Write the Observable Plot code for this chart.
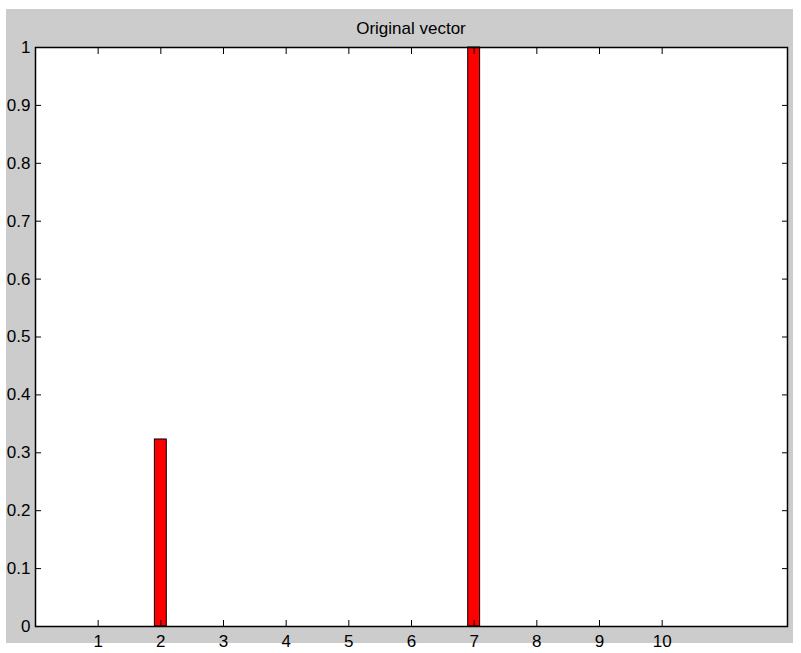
<!DOCTYPE html>
<html>
<head>
<meta charset="utf-8">
<script src="https://cdn.jsdelivr.net/npm/d3@7"></script>
<script src="https://cdn.jsdelivr.net/npm/@observablehq/plot@0.6"></script>
<style>
  html, body { margin: 0; padding: 0; background: #ffffff; }
  #wrap { position: relative; width: 801px; height: 653px; }
  #bg { position: absolute; left: 6px; top: 9px; width: 787px; height: 634px; background: #cccccc; }
  #title { position: absolute; left: 35px; width: 752px; top: 19px; text-align: center;
           font-family: "Liberation Sans", Arial, sans-serif; font-size: 17px; color: #000; }
  #chart { position: absolute; left: 0; top: 0; }
  #chart svg { background: transparent !important; }
</style>
</head>
<body>
<div id="wrap">
  <div id="bg"></div>
  <div id="title">Original vector</div>
  <div id="chart"></div>
</div>
<script>
const titleText = "Original vector";
const positions = [1, 2, 3, 4, 5, 6, 7, 8, 9, 10];
const values = [0, 0.323, 0, 0, 0, 0, 1, 0, 0, 0];
const xTicks = [1, 2, 3, 4, 5, 6, 7, 8, 9, 10];
const yTicks = [0, 0.1, 0.2, 0.3, 0.4, 0.5, 0.6, 0.7, 0.8, 0.9, 1];
const barWidth = 0.19;

document.getElementById("title").textContent = titleText;
const data = positions.map((p, i) => ({x: p, y: values[i]}));

const chart = Plot.plot({
  width: 801,
  height: 653,
  marginLeft: 35,
  marginRight: 14,
  marginTop: 47,
  marginBottom: 27,
  style: {fontFamily: "'Liberation Sans', Arial, sans-serif", fontSize: "17px", background: "transparent", color: "#000"},
  x: {domain: [0, 12]},
  y: {domain: [0, 1]},
  marks: [
    Plot.frame({fill: "white", stroke: "none"}),
    Plot.rectY(data.filter(d => d.y > 0), {x1: d => d.x - barWidth / 2, x2: d => d.x + barWidth / 2, y: "y", fill: "#ff0000", stroke: "black", strokeWidth: 1}),
    // labels
    Plot.axisX({ticks: xTicks, tickSize: 0, tickPadding: 8, label: null, fontSize: 17}),
    Plot.axisY({ticks: yTicks, tickSize: 0, tickPadding: 5, label: null, fontSize: 17, tickFormat: d => d3.format("")(d)}),
    // inward ticks
    Plot.axisX({ticks: xTicks, anchor: "bottom", tickSize: -6, tickFormat: () => "", label: null}),
    Plot.axisX({ticks: xTicks, anchor: "top", tickSize: -6, tickFormat: () => "", label: null}),
    Plot.axisY({ticks: yTicks, anchor: "left", tickSize: -6, tickFormat: () => "", label: null}),
    Plot.axisY({ticks: yTicks, anchor: "right", tickSize: -6, tickFormat: () => "", label: null}),
    Plot.frame({stroke: "black", strokeWidth: 1.5})
  ]
});
document.getElementById("chart").append(chart);
</script>
</body>
</html>
